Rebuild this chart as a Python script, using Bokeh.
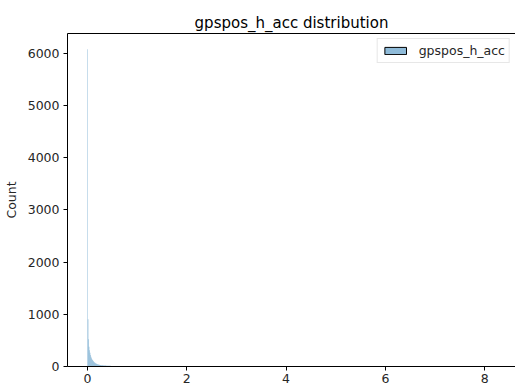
from bokeh.plotting import figure
from bokeh.models import (Range1d, FixedTicker, Legend, LegendItem,
                          ColumnDataSource, LinearAxis)
from bokeh.embed import file_html
from bokeh.resources import INLINE

# Histogram of gpspos_h_acc: bin width 0.01, counts per bin starting at 0
bin_width = 0.01
counts = [
    6076, 905, 520, 380, 310, 265, 220, 185, 160, 140,
    125, 112, 100, 88, 78, 70, 63, 57, 52, 47,
    43, 40, 37, 34, 32, 30, 28, 26, 25, 24,
    23, 22, 21, 20, 19, 18, 18, 17, 16, 16,
    15, 14, 14, 13, 13, 12, 12, 11, 11, 10,
    10, 9, 9, 9, 8, 8, 8, 7, 7, 7,
    6, 6, 6, 5, 5, 5, 4, 4, 3, 3,
    2, 2, 1,
]
# sparse outliers further out
tail_starts = [0.85, 1.10, 1.60, 2.30, 3.40, 8.05]
tail_counts = [1, 1, 1, 1, 1, 1]

x_ticks = [0, 2, 4, 6, 8]
y_ticks = [0, 1000, 2000, 3000, 4000, 5000, 6000]

lefts = [i * bin_width for i in range(len(counts))] + tail_starts
heights = counts + tail_counts
src = ColumnDataSource(dict(
    left=lefts,
    right=[l + bin_width for l in lefts],
    top=heights,
    bottom=[0] * len(heights),
))

FONT = "DejaVu Sans"
BLUE = "#1f77b4"
TXT = "#262626"

p = figure(width=515, height=387, output_backend="svg", toolbar_location=None,
           x_range=Range1d(-0.4, 8.62), y_range=Range1d(0, 6380),
           min_border_left=67, min_border_right=0, min_border_top=33,
           min_border_bottom=21)

p.quad(left="left", right="right", top="top", bottom="bottom", source=src,
       fill_color=BLUE, fill_alpha=0.5, line_color=None)

# swatch used only for the legend entry (sits outside the visible range)
swatch = p.quad(left=[-9], right=[-8], top=[-9], bottom=[-10],
                fill_color=BLUE, fill_alpha=0.5, line_color="black",
                line_width=1)

p.title.text = "gpspos_h_acc distribution"
p.title.align = "center"
p.title.text_font = FONT
p.title.text_font_size = "15px"
p.title.text_font_style = "normal"
p.title.text_color = "black"
p.title.standoff = 3

p.grid.visible = False
p.outline_line_color = None
p.background_fill_color = "white"
p.border_fill_color = "white"

bottom_axis = p.below[0]
left_axis = p.left[0]

for ax in (bottom_axis, left_axis):
    ax.major_tick_line_color = "black"
    ax.major_tick_out = 4
    ax.major_tick_in = 0
    ax.minor_tick_line_color = None
    ax.axis_line_color = "black"
    ax.major_label_text_font = FONT
    ax.major_label_text_font_size = "12.5px"
    ax.major_label_text_color = TXT

bottom_axis.ticker = FixedTicker(ticks=x_ticks)
left_axis.ticker = FixedTicker(ticks=y_ticks)
bottom_axis.major_label_standoff = 3
left_axis.major_label_standoff = 4
left_axis.axis_label = "Count"
left_axis.axis_label_text_font = FONT
left_axis.axis_label_text_font_size = "12.5px"
left_axis.axis_label_text_font_style = "normal"
left_axis.axis_label_text_color = TXT
left_axis.axis_label_standoff = 6

# top spine, drawn as a bare axis line
top_spine = LinearAxis(ticker=FixedTicker(ticks=[]), axis_line_color="black",
                       major_tick_line_color=None, minor_tick_line_color=None,
                       major_label_text_font_size="0px",
                       major_label_standoff=0, major_tick_out=0)
p.add_layout(top_spine, "above")

legend = Legend(items=[LegendItem(label="gpspos_h_acc", renderers=[swatch])],
                location="top_right")
legend.label_text_font = FONT
legend.label_text_font_size = "12.5px"
legend.label_text_color = TXT
legend.label_height = 13
legend.glyph_width = 27
legend.glyph_height = 9
legend.border_line_color = "#d0d0d0"
legend.border_line_width = 1
legend.padding = 4
legend.margin = 5
legend.spacing = 0
legend.label_standoff = 10
legend.background_fill_alpha = 0.8
p.add_layout(legend)

open("out.html", "w").write(file_html(p, INLINE))
